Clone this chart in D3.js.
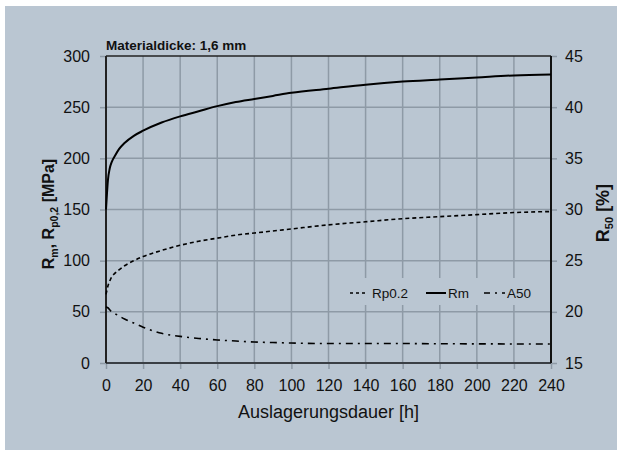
<!DOCTYPE html>
<html>
<head>
<meta charset="utf-8">
<script src="https://cdn.jsdelivr.net/npm/d3@7"></script>
<style>
  body { margin: 0; background: #fff; }
  svg { display: block; font-family: "Liberation Sans", Arial, Helvetica, sans-serif; }
</style>
</head>
<body>
<div id="chart"></div>
<script>
// Auslagerungsdauer [h]
const hours = [0, 0.5, 1, 2, 3, 5, 7, 10, 15, 20, 30, 40, 50, 60, 70, 80, 90, 100, 120, 140, 160, 180, 200, 220, 240];
// Rm [MPa]
const rmValues = [150, 165, 178, 190, 196, 203, 209, 215, 222, 227, 235, 241, 246, 251, 255, 258, 261, 264, 268, 272, 275, 277, 279, 281, 282];
// Rp0.2 [MPa]
const rpValues = [67, 71, 75, 80, 84, 88, 91, 95, 100, 104, 110, 115, 119, 122, 125, 127, 129, 131, 135, 138, 141, 143, 145, 147, 148];
// A50 [%]
const a50Values = [20.5, 20.45, 20.4, 20.2, 20.0, 19.8, 19.6, 19.3, 18.9, 18.5, 17.9, 17.6, 17.4, 17.25, 17.15, 17.05, 17.0, 16.95, 16.9, 16.9, 16.9, 16.88, 16.87, 16.86, 16.85];

const xTicks = [0, 20, 40, 60, 80, 100, 120, 140, 160, 180, 200, 220, 240];
const leftTicks = [0, 50, 100, 150, 200, 250, 300];
const rightTicks = [15, 20, 25, 30, 35, 40, 45];

const W = 617, H = 450;
const margin = { top: 56, right: 66, bottom: 87, left: 106 };
const width = W - margin.left - margin.right;
const height = H - margin.top - margin.bottom;

const svg = d3.select('#chart').append('svg')
    .attr('width', W)
    .attr('height', H);

// panel background
svg.append('rect')
    .attr('x', 5).attr('y', 6)
    .attr('width', W - 5).attr('height', H - 6)
    .attr('fill', '#bac6d2');

const g = svg.append('g')
    .attr('transform', `translate(${margin.left},${margin.top})`);

const x = d3.scaleLinear().domain([0, 240]).range([0, width]);
const yL = d3.scaleLinear().domain([0, 300]).range([height, 0]);
const yR = d3.scaleLinear().domain([15, 45]).range([height, 0]);

const gridColor = '#8e9aa6';

// grid
g.append('g').selectAll('line')
    .data(xTicks.slice(1, -1))
    .enter().append('line')
    .attr('x1', d => x(d)).attr('x2', d => x(d))
    .attr('y1', 0).attr('y2', height)
    .attr('stroke', gridColor).attr('stroke-width', 1.5);

g.append('g').selectAll('line')
    .data(leftTicks.slice(1, -1))
    .enter().append('line')
    .attr('x1', 0).attr('x2', width)
    .attr('y1', d => yL(d)).attr('y2', d => yL(d))
    .attr('stroke', gridColor).attr('stroke-width', 1.5);

// axes
function styleAxis(sel) {
    sel.select('.domain').remove();
    sel.selectAll('.tick line').attr('stroke', gridColor).attr('stroke-width', 1.5);
    sel.selectAll('.tick text')
        .attr('fill', '#111')
        .style('font-size', '16px');
}

g.append('g')
    .attr('transform', `translate(0,${height})`)
    .call(d3.axisBottom(x).tickValues(xTicks).tickSize(6).tickPadding(11))
    .call(styleAxis);

g.append('g')
    .call(d3.axisLeft(yL).tickValues(leftTicks).tickSize(6).tickPadding(10))
    .call(styleAxis);

g.append('g')
    .attr('transform', `translate(${width},0)`)
    .call(d3.axisRight(yR).tickValues(rightTicks).tickSize(6).tickPadding(8))
    .call(styleAxis);

// frame
g.append('line').attr('x1', 0).attr('x2', width).attr('y1', 0).attr('y2', 0)
    .attr('stroke', '#222').attr('stroke-width', 1.5);
g.append('line').attr('x1', 0).attr('x2', width).attr('y1', height).attr('y2', height)
    .attr('stroke', '#3a3f45').attr('stroke-width', 2);
g.append('line').attr('x1', 0).attr('x2', 0).attr('y1', 0).attr('y2', height)
    .attr('stroke', '#222').attr('stroke-width', 2);
g.append('line').attr('x1', width).attr('x2', width).attr('y1', 0).attr('y2', height)
    .attr('stroke', '#111').attr('stroke-width', 2);

// curves
const series = [
    { name: 'Rp0.2', values: rpValues, y: yL, dash: '4,3' },
    { name: 'Rm', values: rmValues, y: yL, dash: null },
    { name: 'A50', values: a50Values, y: yR, dash: '7,5,2,5' }
];

series.forEach(s => {
    const line = d3.line()
        .x((d, i) => x(hours[i]))
        .y(d => s.y(d))
        .curve(d3.curveMonotoneX);
    g.append('path')
        .datum(s.values)
        .attr('d', line)
        .attr('fill', 'none')
        .attr('stroke', '#000')
        .attr('stroke-width', s.dash ? 1.6 : 2)
        .attr('stroke-dasharray', s.dash);
});

// legend
const legend = svg.append('g');
legend.append('rect')
    .attr('x', 342).attr('y', 278)
    .attr('width', 200).attr('height', 27)
    .attr('fill', '#bac6d2');
const legendItems = [
    { name: 'Rp0.2', x0: 350, x1: 366, tx: 372, dash: '3,3' },
    { name: 'Rm', x0: 426, x1: 446, tx: 448, dash: null },
    { name: 'A50', x0: 484, x1: 505, tx: 507, dash: '6,5,2,5' }
];
legendItems.forEach(it => {
    legend.append('line')
        .attr('x1', it.x0).attr('x2', it.x1)
        .attr('y1', 293).attr('y2', 293)
        .attr('stroke', '#000').attr('stroke-width', it.dash ? 1.6 : 2)
        .attr('stroke-dasharray', it.dash);
    legend.append('text')
        .attr('x', it.tx).attr('y', 298)
        .attr('fill', '#111')
        .style('font-size', '13.5px')
        .text(it.name);
});

// title
svg.append('text')
    .attr('x', 106).attr('y', 50)
    .attr('fill', '#111')
    .style('font-size', '13.5px')
    .style('font-weight', 'bold')
    .text('Materialdicke: 1,6 mm');

// x label
svg.append('text')
    .attr('x', margin.left + width / 2).attr('y', 418)
    .attr('text-anchor', 'middle')
    .attr('fill', '#111')
    .style('font-size', '18px')
    .text('Auslagerungsdauer [h]');

// left label
const ll = svg.append('text')
    .attr('transform', 'translate(54,214) rotate(-90)')
    .attr('text-anchor', 'middle')
    .attr('fill', '#111')
    .style('font-size', '16px')
    .style('font-weight', 'bold');
ll.append('tspan').text('R');
ll.append('tspan').attr('dy', 4).style('font-size', '10.5px').text('m');
ll.append('tspan').attr('dy', -4).text(', R');
ll.append('tspan').attr('dy', 4).style('font-size', '10.5px').text('p0,2');
ll.append('tspan').attr('dy', -4).text(' [MPa]');

// right label
const rl = svg.append('text')
    .attr('transform', 'translate(609,213) rotate(-90)')
    .attr('text-anchor', 'middle')
    .attr('fill', '#111')
    .style('font-size', '18px')
    .style('font-weight', 'bold');
rl.append('tspan').text('R');
rl.append('tspan').attr('dy', 4).style('font-size', '11px').text('50');
rl.append('tspan').attr('dy', -4).text(' [%]');
</script>
</body>
</html>
